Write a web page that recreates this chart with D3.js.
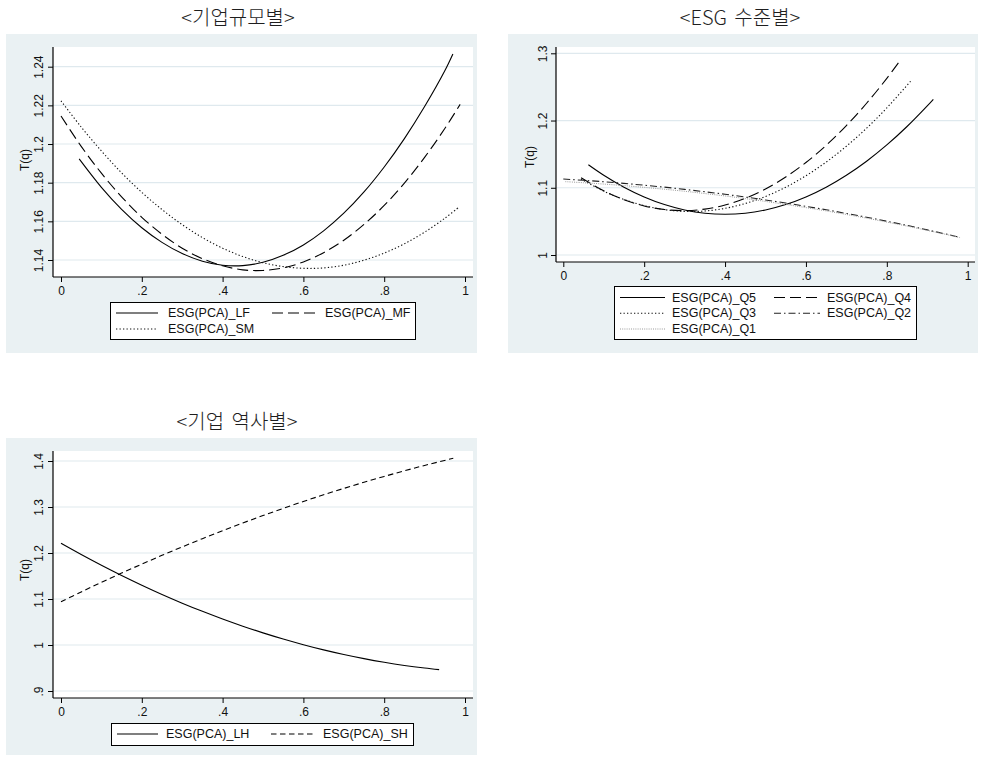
<!DOCTYPE html>
<html>
<head>
<meta charset="utf-8">
<script src="https://cdn.jsdelivr.net/npm/d3@7/dist/d3.min.js"></script>
<style>
  html, body { margin: 0; padding: 0; background: #ffffff; }
  svg { display: block; }
  .tick-label { font-family: "Liberation Sans", Arial, Helvetica, sans-serif; font-size: 12px; fill: #111; }
  .axis-title { font-family: "Liberation Sans", Arial, Helvetica, sans-serif; font-size: 12px; fill: #111; }
  .legend-text { font-family: "Liberation Sans", Arial, Helvetica, sans-serif; font-size: 12.5px; fill: #111; }
  .panel-title { font-family: "Noto Sans CJK KR", sans-serif; font-size: 20px; font-weight: 300; fill: #1e1e1e; }
</style>
</head>
<body>
<svg id="chart" width="983" height="758"></svg>
<script>
// ---- Shared axis ticks ----
const xTicks = [0, 0.2, 0.4, 0.6, 0.8, 1];
const xTickLabels = ["0", ".2", ".4", ".6", ".8", "1"];

// ---- Panel 1: by firm size ----
const sizeTitle = "<기업규모별>";
const sizeYTicks = [1.14, 1.16, 1.18, 1.2, 1.22, 1.24];
const sizeYTickLabels = ["1.14", "1.16", "1.18", "1.2", "1.22", "1.24"];
const sizeLF = [[0.045,1.1923],[0.10,1.1776],[0.15,1.1662],[0.20,1.1567],[0.25,1.1491],[0.30,1.1433],[0.35,1.1394],[0.40,1.1373],[0.45,1.1371],[0.50,1.1388],[0.55,1.1424],[0.60,1.1478],[0.65,1.1551],[0.70,1.1642],[0.75,1.1752],[0.80,1.1881],[0.85,1.2028],[0.90,1.2194],[0.95,1.2379],[0.97,1.2466]];
const sizeMF = [[0.00,1.2145],[0.05,1.1988],[0.10,1.1849],[0.15,1.1727],[0.20,1.1621],[0.25,1.1533],[0.30,1.1461],[0.35,1.1407],[0.40,1.1370],[0.45,1.1349],[0.50,1.1346],[0.55,1.1359],[0.60,1.1390],[0.65,1.1438],[0.70,1.1502],[0.75,1.1584],[0.80,1.1682],[0.85,1.1798],[0.90,1.1931],[0.95,1.2080],[0.988,1.2205]];
const sizeSM = [[0.00,1.2223],[0.05,1.2088],[0.10,1.1964],[0.15,1.1851],[0.20,1.1750],[0.25,1.1661],[0.30,1.1583],[0.35,1.1516],[0.40,1.1461],[0.45,1.1418],[0.50,1.1386],[0.55,1.1366],[0.60,1.1357],[0.65,1.1359],[0.70,1.1373],[0.75,1.1399],[0.80,1.1436],[0.85,1.1484],[0.90,1.1544],[0.95,1.1616],[0.983,1.1670]];
const sizeNames = ["ESG(PCA)_LF", "ESG(PCA)_MF", "ESG(PCA)_SM"];

// ---- Panel 2: by ESG level ----
const esgTitle = "<ESG 수준별>";
const esgYTicks = [1, 1.1, 1.2, 1.3];
const esgYTickLabels = ["1", "1.1", "1.2", "1.3"];
const esgQ5 = [[0.062,1.1342],[0.10,1.1186],[0.15,1.1008],[0.20,1.0863],[0.25,1.0750],[0.30,1.0670],[0.35,1.0621],[0.40,1.0605],[0.45,1.0621],[0.50,1.0670],[0.55,1.0750],[0.60,1.0863],[0.65,1.1008],[0.70,1.1186],[0.75,1.1395],[0.80,1.1637],[0.85,1.1911],[0.90,1.2218],[0.915,1.2316]];
const esgQ4 = [[0.044,1.1149],[0.10,1.0955],[0.15,1.0823],[0.20,1.0730],[0.25,1.0676],[0.30,1.0660],[0.35,1.0683],[0.40,1.0744],[0.45,1.0844],[0.50,1.0983],[0.55,1.1160],[0.60,1.1376],[0.65,1.1631],[0.70,1.1925],[0.75,1.2257],[0.80,1.2627],[0.835,1.2910]];
const esgQ3 = [[0.044,1.1129],[0.10,1.0950],[0.15,1.0826],[0.20,1.0734],[0.25,1.0675],[0.30,1.0648],[0.35,1.0655],[0.40,1.0694],[0.45,1.0766],[0.50,1.0871],[0.55,1.1008],[0.60,1.1179],[0.65,1.1382],[0.70,1.1618],[0.75,1.1886],[0.80,1.2188],[0.861,1.2600]];
const esgQ2 = [[0.00,1.1130],[0.05,1.1111],[0.10,1.1090],[0.15,1.1065],[0.20,1.1038],[0.25,1.1009],[0.30,1.0976],[0.35,1.0941],[0.40,1.0903],[0.45,1.0862],[0.50,1.0819],[0.55,1.0773],[0.60,1.0724],[0.65,1.0673],[0.70,1.0618],[0.75,1.0562],[0.80,1.0502],[0.85,1.0440],[0.90,1.0374],[0.95,1.0306],[0.981,1.0263]];
const esgQ1 = [[0.005,1.1091],[0.05,1.1075],[0.10,1.1055],[0.15,1.1032],[0.20,1.1006],[0.25,1.0978],[0.30,1.0948],[0.35,1.0914],[0.40,1.0878],[0.45,1.0839],[0.50,1.0797],[0.55,1.0752],[0.60,1.0705],[0.65,1.0656],[0.70,1.0603],[0.75,1.0548],[0.80,1.0490],[0.85,1.0430],[0.90,1.0366],[0.95,1.0301],[0.981,1.0258]];
const esgNames = ["ESG(PCA)_Q5", "ESG(PCA)_Q4", "ESG(PCA)_Q3", "ESG(PCA)_Q2", "ESG(PCA)_Q1"];

// ---- Panel 3: by firm age ----
const ageTitle = "<기업 역사별>";
const ageYTicks = [0.9, 1, 1.1, 1.2, 1.3, 1.4];
const ageYTickLabels = [".9", "1", "1.1", "1.2", "1.3", "1.4"];
const ageLH = [[0.00,1.2210],[0.05,1.1966],[0.10,1.1733],[0.15,1.1511],[0.20,1.1300],[0.25,1.1099],[0.30,1.0910],[0.35,1.0732],[0.40,1.0565],[0.45,1.0409],[0.50,1.0264],[0.55,1.0130],[0.60,1.0007],[0.65,0.9894],[0.70,0.9793],[0.75,0.9703],[0.80,0.9624],[0.85,0.9556],[0.90,0.9499],[0.936,0.9464]];
const ageSH = [[0.00,1.0941],[0.05,1.1154],[0.10,1.1361],[0.15,1.1563],[0.20,1.1759],[0.25,1.1949],[0.30,1.2133],[0.35,1.2312],[0.40,1.2485],[0.45,1.2653],[0.50,1.2814],[0.55,1.2970],[0.60,1.3121],[0.65,1.3265],[0.70,1.3404],[0.75,1.3538],[0.80,1.3665],[0.85,1.3787],[0.90,1.3904],[0.971,1.4059]];
const ageNames = ["ESG(PCA)_LH", "ESG(PCA)_SH"];

// ---- Line patterns ----
const STYLES = {
  solid:     { stroke: "#000",    width: 1.1, dash: null },
  longdash:  { stroke: "#000",    width: 1.1, dash: "11,5" },
  dot:       { stroke: "#111",    width: 1.1, dash: "1.3,2.2" },
  dashdot:   { stroke: "#222",    width: 1.1, dash: "7,3,1.5,3" },
  lightdot:  { stroke: "#9a9a9a", width: 1.0, dash: "1,1.2" },
  shortdash: { stroke: "#000",    width: 1.1, dash: "5.5,3.5" }
};

const svg = d3.select("#chart");
const BG = "#eaf1f3";
const GRID = "#dfe9ee";

function drawPanel(p) {
  const g = svg.append("g");

  // outer graph region
  g.append("rect").attr("x", p.bg[0]).attr("y", p.bg[1])
    .attr("width", p.bg[2] - p.bg[0]).attr("height", p.bg[3] - p.bg[1])
    .attr("fill", BG);

  // plot region
  g.append("rect").attr("x", p.plot[0]).attr("y", p.plot[1])
    .attr("width", p.plot[2] - p.plot[0]).attr("height", p.plot[3] - p.plot[1])
    .attr("fill", "#fff");

  const x = d3.scaleLinear().domain([0, 1]).range(p.xRange);
  const y = d3.scaleLinear().domain(p.yDomain).range(p.yRange);

  // horizontal gridlines
  g.append("g").selectAll("line").data(p.yTicks).join("line")
    .attr("x1", p.plot[0]).attr("x2", p.plot[2])
    .attr("y1", d => y(d)).attr("y2", d => y(d))
    .attr("stroke", GRID).attr("stroke-width", 1.2);

  // series
  const line = d3.line().x(d => x(d[0])).y(d => y(d[1])).curve(d3.curveCatmullRom);
  p.series.forEach(s => {
    const st = STYLES[s.style];
    g.append("path").datum(s.data)
      .attr("d", line)
      .attr("fill", "none")
      .attr("stroke", st.stroke)
      .attr("stroke-width", st.width)
      .attr("stroke-dasharray", st.dash);
  });

  // y axis
  const yAxis = d3.axisLeft(y).tickValues(p.yTicks).tickSize(5)
    .tickFormat((d, i) => p.yTickLabels[i]);
  const ya = g.append("g").attr("transform", `translate(${p.plot[0]},0)`).call(yAxis);
  ya.attr("font-family", null).attr("font-size", null);
  ya.select(".domain").remove();
  ya.selectAll(".tick line").attr("stroke", "#000");
  ya.selectAll(".tick text")
    .attr("class", "tick-label")
    .attr("x", 0).attr("dy", null)
    .attr("text-anchor", "middle")
    .attr("transform", `translate(${p.yLabelX - p.plot[0]},0) rotate(-90)`)
    .attr("dominant-baseline", "central")
    .attr("y", 0);
  g.append("line").attr("x1", p.plot[0]).attr("x2", p.plot[0])
    .attr("y1", p.plot[1]).attr("y2", p.plot[3]).attr("stroke", "#000").attr("stroke-width", 1.2);

  // x axis
  const xAxis = d3.axisBottom(x).tickValues(xTicks).tickSize(5)
    .tickFormat((d, i) => xTickLabels[i]);
  const xa = g.append("g").attr("transform", `translate(0,${p.plot[3]})`).call(xAxis);
  xa.attr("font-family", null).attr("font-size", null);
  xa.select(".domain").remove();
  xa.selectAll(".tick line").attr("stroke", "#000");
  xa.selectAll(".tick text").attr("class", "tick-label").attr("y", 9).attr("dy", "0.71em");
  g.append("line").attr("x1", p.plot[0]).attr("x2", p.plot[2])
    .attr("y1", p.plot[3]).attr("y2", p.plot[3]).attr("stroke", "#000").attr("stroke-width", 1.2);

  // axis title
  g.append("text").attr("class", "axis-title")
    .attr("transform", `translate(${p.titleY[0]},${p.titleY[1]}) rotate(-90)`)
    .attr("text-anchor", "middle").attr("dominant-baseline", "central")
    .text("T(q)");

  // panel title
  g.append("text").attr("class", "panel-title")
    .attr("x", p.title[1]).attr("y", p.title[2])
    .attr("text-anchor", "middle")
    .attr("word-spacing", "3px")
    .text(p.title[0]);

  // legend
  const L = p.legend;
  g.append("rect").attr("x", L.box[0] + 0.5).attr("y", L.box[1] + 0.5)
    .attr("width", L.box[2] - L.box[0]).attr("height", L.box[3] - L.box[1])
    .attr("fill", "#fff").attr("stroke", "#000").attr("stroke-width", 1);
  p.series.forEach((s, i) => {
    const col = i % 2, row = Math.floor(i / 2);
    const st = STYLES[s.style];
    const ky = L.rows[row];
    g.append("line")
      .attr("x1", L.keyX[col][0]).attr("x2", L.keyX[col][1])
      .attr("y1", ky).attr("y2", ky)
      .attr("stroke", st.stroke).attr("stroke-width", st.width)
      .attr("stroke-dasharray", st.dash);
    g.append("text").attr("class", "legend-text")
      .attr("x", L.textX[col]).attr("y", ky)
      .attr("dominant-baseline", "central")
      .text(s.name);
  });
}

drawPanel({
  bg: [6, 34, 477, 353],
  plot: [53, 47, 473, 277],
  xRange: [61, 465],
  yDomain: [1.14, 1.24], yRange: [260, 66.7],
  yTicks: sizeYTicks, yTickLabels: sizeYTickLabels,
  yLabelX: 39, titleY: [25, 160],
  title: [sizeTitle, 238, 25],
  series: [
    { name: sizeNames[0], style: "solid", data: sizeLF },
    { name: sizeNames[1], style: "longdash", data: sizeMF },
    { name: sizeNames[2], style: "dot", data: sizeSM }
  ],
  legend: { box: [110, 302, 415, 339], rows: [313, 329], keyX: [[116, 158], [272, 315]], textX: [168, 325] }
});

drawPanel({
  bg: [508, 34, 978, 353],
  plot: [556, 47, 975, 262],
  xRange: [563.3, 967.7],
  yDomain: [1, 1.3], yRange: [255, 53.3],
  yTicks: esgYTicks, yTickLabels: esgYTickLabels,
  yLabelX: 543, titleY: [530, 157],
  title: [esgTitle, 740, 25],
  series: [
    { name: esgNames[0], style: "solid", data: esgQ5 },
    { name: esgNames[1], style: "longdash", data: esgQ4 },
    { name: esgNames[2], style: "dot", data: esgQ3 },
    { name: esgNames[3], style: "dashdot", data: esgQ2 },
    { name: esgNames[4], style: "lightdot", data: esgQ1 }
  ],
  legend: { box: [614, 286, 916, 339], rows: [297.5, 313.3, 329], keyX: [[620, 665], [774, 820]], textX: [672, 827] }
});

drawPanel({
  bg: [6, 438, 477, 755],
  plot: [53, 451, 473, 698],
  xRange: [61, 465],
  yDomain: [0.9, 1.4], yRange: [691, 461],
  yTicks: ageYTicks, yTickLabels: ageYTickLabels,
  yLabelX: 39, titleY: [25, 570],
  title: [ageTitle, 237, 429],
  series: [
    { name: ageNames[0], style: "solid", data: ageLH },
    { name: ageNames[1], style: "shortdash", data: ageSH }
  ],
  legend: { box: [111, 723, 413, 745], rows: [734], keyX: [[117, 158], [271, 315]], textX: [166, 323] }
});
</script>
</body>
</html>
